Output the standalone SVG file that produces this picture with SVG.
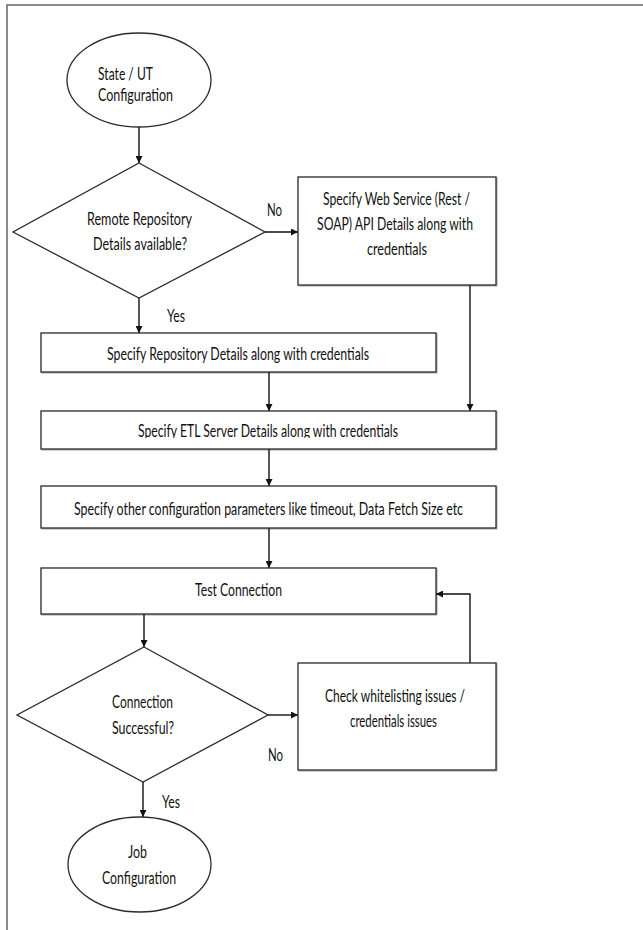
<svg xmlns="http://www.w3.org/2000/svg" width="643" height="930" viewBox="0 0 643 930">
  <defs>
    <style>
      .shape { fill: #ffffff; stroke: #2b2b2b; stroke-width: 1.3; }
      .box { fill: #ffffff; stroke: #2b2b2b; stroke-width: 1.3; filter: url(#shadow); }
      .lbl { font-family: Lato, "Liberation Sans", sans-serif; font-size: 17px; fill: #111111; }
      .wire { fill: none; stroke: #111111; stroke-width: 1.4; }
      .frame { fill: none; stroke: #8a8a8a; stroke-width: 2; }
    </style>
    <marker id="arrow" viewBox="0 0 10 10" refX="10" refY="5" markerWidth="7" markerHeight="7" markerUnits="userSpaceOnUse" orient="auto">
      <path d="M0,0 L10,5 L0,10 z" fill="#111111"/>
    </marker>
    <filter id="shadow" x="-5%" y="-5%" width="110%" height="115%">
      <feDropShadow dx="0.8" dy="0.8" stdDeviation="0.6" flood-color="#000000" flood-opacity="0.35"/>
    </filter>
    <clipPath id="etlClip">
      <rect x="41" y="411" width="455" height="27"/>
    </clipPath>
  </defs>

  <rect width="643" height="930" fill="#ffffff"/>

  <!-- outer frame -->
  <path class="frame" d="M7,930 L7,5 L643,5"/>

  <!-- connectors -->
  <g id="connectors">
    <line class="wire" x1="139" y1="127" x2="139" y2="163" marker-end="url(#arrow)"/>
    <line class="wire" x1="265" y1="232" x2="298" y2="232" marker-end="url(#arrow)"/>
    <line class="wire" x1="139" y1="298" x2="139" y2="333" marker-end="url(#arrow)"/>
    <line class="wire" x1="470" y1="285" x2="470" y2="411" marker-end="url(#arrow)"/>
    <line class="wire" x1="269" y1="372" x2="269" y2="411" marker-end="url(#arrow)"/>
    <line class="wire" x1="269" y1="449" x2="269" y2="486" marker-end="url(#arrow)"/>
    <line class="wire" x1="269" y1="528" x2="269" y2="568" marker-end="url(#arrow)"/>
    <line class="wire" x1="144" y1="614" x2="144" y2="647" marker-end="url(#arrow)"/>
    <line class="wire" x1="268" y1="715" x2="298" y2="715" marker-end="url(#arrow)"/>
    <polyline class="wire" points="470,663 470,594 436,594" marker-end="url(#arrow)"/>
    <line class="wire" x1="143" y1="782" x2="143" y2="817" marker-end="url(#arrow)"/>
    <text class="lbl" x="267" y="216" textLength="15" lengthAdjust="spacingAndGlyphs">No</text>
    <text class="lbl" x="167" y="322" textLength="18" lengthAdjust="spacingAndGlyphs">Yes</text>
    <text class="lbl" x="268" y="761" textLength="15" lengthAdjust="spacingAndGlyphs">No</text>
    <text class="lbl" x="162" y="808" textLength="18" lengthAdjust="spacingAndGlyphs">Yes</text>
  </g>

  <!-- start terminal -->
  <g id="start">
    <ellipse class="shape" cx="139" cy="80" rx="72" ry="47"/>
    <text class="lbl" x="98" y="80" textLength="55" lengthAdjust="spacingAndGlyphs">State / UT</text>
    <text class="lbl" x="98" y="101" textLength="75" lengthAdjust="spacingAndGlyphs">Configuration</text>
  </g>

  <!-- decision: remote repository -->
  <g id="repoDecision">
    <polygon class="shape" points="139,163 265,232 139,298 13,232"/>
    <text class="lbl" x="87" y="225" textLength="105" lengthAdjust="spacingAndGlyphs">Remote Repository</text>
    <text class="lbl" x="93" y="250" textLength="94" lengthAdjust="spacingAndGlyphs">Details available?</text>
  </g>

  <!-- web service details -->
  <g id="webService">
    <rect class="box" x="298" y="177" width="198" height="108"/>
    <text class="lbl" x="323" y="205" textLength="147" lengthAdjust="spacingAndGlyphs">Specify Web Service (Rest /</text>
    <text class="lbl" x="317" y="230" textLength="156" lengthAdjust="spacingAndGlyphs">SOAP) API Details along with</text>
    <text class="lbl" x="367" y="255" textLength="60" lengthAdjust="spacingAndGlyphs">credentials</text>
  </g>

  <!-- repository details -->
  <g id="repoDetails">
    <rect class="box" x="41" y="333" width="395" height="39"/>
    <text class="lbl" x="107" y="360" textLength="262" lengthAdjust="spacingAndGlyphs">Specify Repository Details along with credentials</text>
  </g>

  <!-- ETL server details -->
  <g id="etlServer">
    <rect class="box" x="41" y="411" width="455" height="38"/>
    <text class="lbl" x="138" y="437" textLength="260" lengthAdjust="spacingAndGlyphs" clip-path="url(#etlClip)">Specify ETL Server Details along with credentials</text>
  </g>

  <!-- other parameters -->
  <g id="otherParams">
    <rect class="box" x="41" y="486" width="455" height="42"/>
    <text class="lbl" x="74" y="515" textLength="389" lengthAdjust="spacingAndGlyphs">Specify other configuration parameters like timeout, Data Fetch Size etc</text>
  </g>

  <!-- test connection -->
  <g id="testConnection">
    <rect class="box" x="41" y="568" width="395" height="46"/>
    <text class="lbl" x="195" y="596" textLength="87" lengthAdjust="spacingAndGlyphs">Test Connection</text>
  </g>

  <!-- decision: connection result -->
  <g id="connDecision">
    <polygon class="shape" points="144,647 268,715 143,782 17,715"/>
    <text class="lbl" x="112" y="708" textLength="61" lengthAdjust="spacingAndGlyphs">Connection</text>
    <text class="lbl" x="112" y="734" textLength="62" lengthAdjust="spacingAndGlyphs">Successful?</text>
  </g>

  <!-- troubleshooting -->
  <g id="checkIssues">
    <rect class="box" x="298" y="663" width="198" height="107"/>
    <text class="lbl" x="325" y="702" textLength="140" lengthAdjust="spacingAndGlyphs">Check whitelisting issues /</text>
    <text class="lbl" x="350" y="727" textLength="87" lengthAdjust="spacingAndGlyphs">credentials issues</text>
  </g>

  <!-- end terminal -->
  <g id="end">
    <ellipse class="shape" cx="139.5" cy="864.5" rx="71.5" ry="47.5"/>
    <text class="lbl" x="128" y="858" textLength="19" lengthAdjust="spacingAndGlyphs">Job</text>
    <text class="lbl" x="102" y="884" textLength="74" lengthAdjust="spacingAndGlyphs">Configuration</text>
  </g>
</svg>
